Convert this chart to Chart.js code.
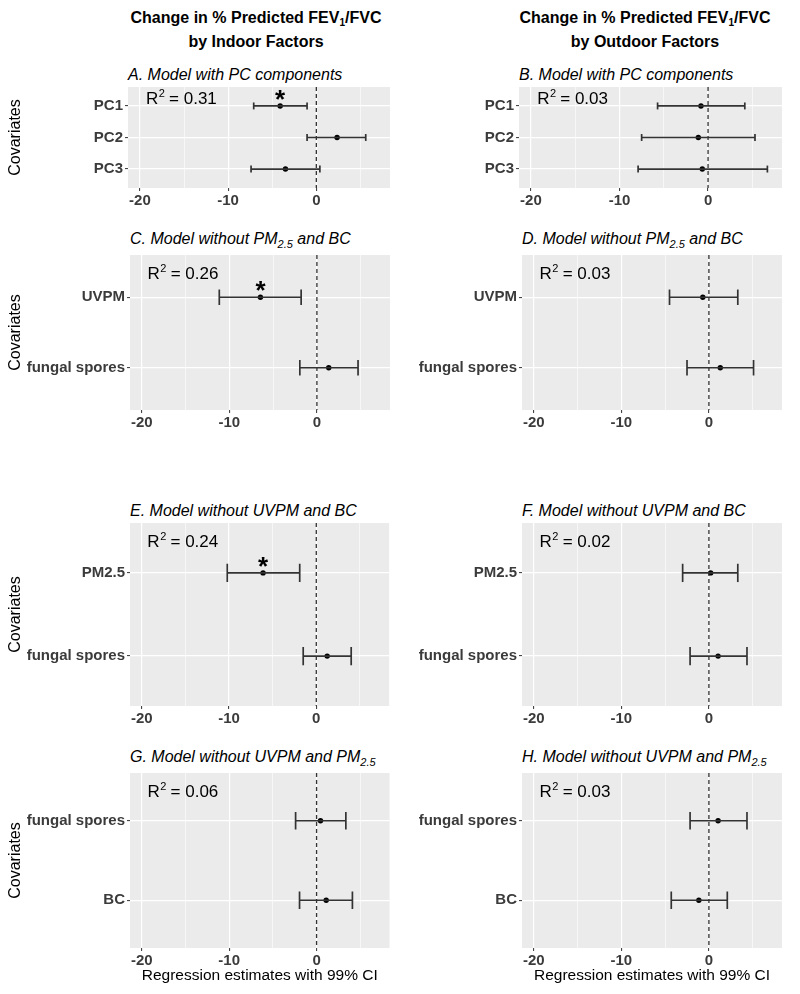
<!DOCTYPE html>
<html><head><meta charset="utf-8">
<script src="https://cdn.jsdelivr.net/npm/chart.js@4/dist/chart.umd.min.js"></script>
<style>
body{margin:0;background:#fff;width:800px;height:994px;position:relative;overflow:hidden;font-family:'Liberation Sans',Arial,sans-serif;}
.h{position:absolute;width:400px;text-align:center;font-weight:bold;font-size:16px;line-height:24px;color:#000;}
.s{position:absolute;font-style:italic;font-size:16px;line-height:20px;color:#000;white-space:nowrap;}
.h sub{font-size:10px;line-height:0;vertical-align:-3px}
.s sub{font-size:11px;line-height:0;vertical-align:-4px}
canvas{position:absolute;}
</style></head><body>
<div class="h" style="left:56px;top:6px">Change in % Predicted FEV<sub>1</sub>/FVC<br>by Indoor Factors</div>
<div class="h" style="left:445px;top:6px">Change in % Predicted FEV<sub>1</sub>/FVC<br>by Outdoor Factors</div>
<div class="s" style="left:128px;top:65px">A. Model with PC components</div>
<div class="s" style="left:519px;top:65px">B. Model with PC components</div>
<div class="s" style="left:130px;top:229px">C. Model without PM<sub>2.5</sub> and BC</div>
<div class="s" style="left:522px;top:229px">D. Model without PM<sub>2.5</sub> and BC</div>
<div class="s" style="left:130px;top:501px">E. Model without UVPM and BC</div>
<div class="s" style="left:522px;top:501px">F. Model without UVPM and BC</div>
<div class="s" style="left:130px;top:747px">G. Model without UVPM and PM<sub>2.5</sub></div>
<div class="s" style="left:522px;top:747px">H. Model without UVPM and PM<sub>2.5</sub></div>
<script>
// ---- data ----
const xTicks = [-20, -15, -10, -5, 0, 5];

const catsA = ['PC1', 'PC2', 'PC3'];
const estA  = [-4.1, 2.35, -3.5];
const lowA  = [-7.1, -1.05, -7.4];
const highA = [-1.05, 5.6, 0.4];
const sigA  = [1, 0, 0];
const r2A   = '0.31';

const catsB = ['PC1', 'PC2', 'PC3'];
const estB  = [-0.8, -1.1, -0.65];
const lowB  = [-5.7, -7.5, -7.9];
const highB = [4.15, 5.3, 6.7];
const sigB  = [0, 0, 0];
const r2B   = '0.03';

const catsC = ['UVPM', 'fungal spores'];
const estC  = [-6.45, 1.35];
const lowC  = [-11.15, -1.95];
const highC = [-1.8, 4.7];
const sigC  = [1, 0];
const r2C   = '0.26';

const catsD = ['UVPM', 'fungal spores'];
const estD  = [-0.7, 1.3];
const lowD  = [-4.5, -2.5];
const highD = [3.3, 5.1];
const sigD  = [0, 0];
const r2D   = '0.03';

const catsE = ['PM2.5', 'fungal spores'];
const estE  = [-6.1, 1.25];
const lowE  = [-10.2, -1.5];
const highE = [-1.9, 4.0];
const sigE  = [1, 0];
const r2E   = '0.24';

const catsF = ['PM2.5', 'fungal spores'];
const estF  = [0.2, 1.05];
const lowF  = [-3.0, -2.15];
const highF = [3.3, 4.35];
const sigF  = [0, 0];
const r2F   = '0.02';

const catsG = ['fungal spores', 'BC'];
const estG  = [0.45, 1.1];
const lowG  = [-2.4, -1.95];
const highG = [3.35, 4.1];
const sigG  = [0, 0];
const r2G   = '0.06';

const catsH = ['fungal spores', 'BC'];
const estH  = [1.05, -1.15];
const lowH  = [-2.15, -4.3];
const highH = [4.35, 2.1];
const sigH  = [0, 0];
const r2H   = '0.03';

// ---- layout ----
const FONT = "'Liberation Sans', Arial, sans-serif";
Chart.defaults.font.family = FONT;

const panels = [
  {col:0, left:128, right:390, top:87,  bottom:188, last:false, d:{cats:catsA, est:estA, low:lowA, high:highA, sig:sigA, r2:r2A}},
  {col:1, left:519, right:782, top:87,  bottom:188, last:false, d:{cats:catsB, est:estB, low:lowB, high:highB, sig:sigB, r2:r2B}},
  {col:0, left:130, right:390, top:255, bottom:410, last:false, d:{cats:catsC, est:estC, low:lowC, high:highC, sig:sigC, r2:r2C}},
  {col:1, left:522, right:782, top:255, bottom:410, last:false, d:{cats:catsD, est:estD, low:lowD, high:highD, sig:sigD, r2:r2D}},
  {col:0, left:130, right:390, top:523, bottom:706, last:false, d:{cats:catsE, est:estE, low:lowE, high:highE, sig:sigE, r2:r2E}},
  {col:1, left:522, right:782, top:523, bottom:706, last:false, d:{cats:catsF, est:estF, low:lowF, high:highF, sig:sigF, r2:r2F}},
  {col:0, left:130, right:390, top:773, bottom:948, last:true,  d:{cats:catsG, est:estG, low:lowG, high:highG, sig:sigG, r2:r2G}},
  {col:1, left:522, right:782, top:773, bottom:948, last:true,  d:{cats:catsH, est:estH, low:lowH, high:highH, sig:sigH, r2:r2H}}
];

function makePanel(cfg) {
  const d = cfg.d;
  const n = d.cats.length;
  const isLeft = cfg.col === 0;
  const colX = isLeft ? 0 : 400;
  const padTop = 20;
  const bottomH = cfg.last ? 37 : 30;
  const plotH = cfg.bottom - cfg.top;
  const W = 400, H = padTop + plotH + bottomH;
  const cv = document.createElement('canvas');
  cv.width = W; cv.height = H;
  cv.style.left = colX + 'px';
  cv.style.top = (cfg.top - padTop) + 'px';
  document.body.appendChild(cv);
  const unit = plotH / (n + 0.2);
  const capR = unit * 0.11;
  const ink = '#333333';

  const datasets = [];
  d.cats.forEach((c, i) => {
    datasets.push({
      data: [{x: d.low[i], y: i + 1}, {x: d.high[i], y: i + 1}],
      showLine: true, borderColor: ink, borderWidth: 1.7,
      pointStyle: 'line', pointRotation: 90, pointRadius: capR, pointHoverRadius: capR,
      pointBorderColor: ink, pointBorderWidth: 1.7
    });
  });
  datasets.push({
    data: [{x: 0, y: 0.4}, {x: 0, y: n + 0.6}],
    showLine: true, borderColor: ink, borderWidth: 1.3, borderDash: [4, 3], pointRadius: 0
  });
  datasets.push({
    data: d.est.map((v, i) => ({x: v, y: i + 1})),
    pointRadius: 2.7, pointHoverRadius: 2.7, backgroundColor: '#000', borderColor: '#000', borderWidth: 0
  });

  const annot = {
    id: 'annot',
    beforeDraw(chart) {
      const {ctx, chartArea: a} = chart;
      ctx.save();
      ctx.fillStyle = '#EBEBEB';
      ctx.fillRect(a.left, a.top, a.right - a.left, a.bottom - a.top);
      ctx.restore();
    },
    afterDatasetsDraw(chart) {
      const {ctx, chartArea: a} = chart;
      const xs = chart.scales.x, ys = chart.scales.y;
      ctx.save();
      ctx.fillStyle = '#000';
      ctx.textAlign = 'left';
      ctx.textBaseline = 'alphabetic';
      const cy = a.top + (n === 3 ? 11 : 18);
      const base = cy + 6;
      ctx.font = '17px ' + FONT;
      const w1 = ctx.measureText('R').width;
      const rest = ' = ' + d.r2;
      const w3 = ctx.measureText(rest).width;
      ctx.font = '11px ' + FONT;
      const w2 = ctx.measureText('2').width;
      let x0 = xs.getPixelForValue(-15.3) - (w1 + w2 + w3) / 2;
      ctx.font = '17px ' + FONT;
      ctx.fillText('R', x0, base);
      ctx.font = '11px ' + FONT;
      ctx.fillText('2', x0 + w1 + 0.5, base - 7);
      ctx.font = '17px ' + FONT;
      ctx.fillText(rest, x0 + w1 + w2, base);
      // significance asterisks
      ctx.font = 'bold 26px ' + FONT;
      ctx.textAlign = 'center';
      d.sig.forEach((s, i) => {
        if (!s) return;
        const px = xs.getPixelForValue(d.est[i]);
        const py = ys.getPixelForValue(i + 1);
        ctx.fillText('*', px, py + 2);
      });
      ctx.restore();
    }
  };

  new Chart(cv, {
    type: 'scatter',
    data: {datasets},
    options: {
      responsive: false, animation: false, devicePixelRatio: 1, events: [],
      layout: {padding: {top: padTop, left: 0, right: W - (cfg.right - colX), bottom: 0}},
      plugins: {legend: {display: false}, tooltip: {enabled: false}},
      scales: {
        x: {
          type: 'linear', min: -21.35, max: 8.35,
          afterBuildTicks(s) { s.ticks = xTicks.map(v => ({value: v})); },
          afterFit(s) { s.height = bottomH; },
          ticks: {autoSkip: false, maxRotation: 0, padding: 1, color: '#3b3b3b',
                  font: {size: 15, weight: 'bold'},
                  callback: (v) => (v % 10 === 0 ? String(v) : '')},
          grid: {color: '#ffffff',
                 lineWidth: (c) => (c.tick && c.tick.value % 10 === 0 ? 1.2 : 0.6),
                 tickLength: 3,
                 tickColor: (c) => (c.tick && c.tick.value % 10 === 0 ? ink : 'rgba(0,0,0,0)'),
                 tickWidth: 1},
          border: {display: false},
          title: {display: cfg.last, text: 'Regression estimates with 99% CI', color: '#000',
                  font: {size: 15.5}, padding: {top: 0, bottom: 0}}
        },
        y: {
          type: 'linear', reverse: true, min: 0.4, max: n + 0.6,
          afterBuildTicks(s) { s.ticks = d.cats.map((_, i) => ({value: i + 1})); },
          afterFit(s) { s.width = cfg.left - colX; },
          ticks: {autoSkip: false, padding: 2, color: '#3b3b3b', font: {size: 15, weight: 'bold'},
                  callback: (v) => (d.cats[v - 1] !== undefined ? d.cats[v - 1] : '')},
          grid: {color: '#ffffff', lineWidth: 1.2, tickLength: 3, tickColor: ink, tickWidth: 1},
          border: {display: false},
          title: {display: isLeft, text: 'Covariates', color: '#000', font: {size: 16},
                  padding: {top: 6, bottom: 0}}
        }
      }
    },
    plugins: [annot]
  });
}

panels.forEach(makePanel);
</script>
</body></html>
